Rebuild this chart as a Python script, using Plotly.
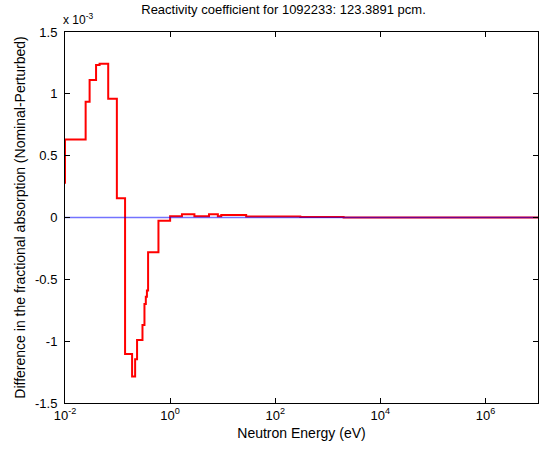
import plotly.graph_objects as go

# Step function: left bin edges (eV) and values (fractional absorption difference)
bin_edges = [0.005, 0.01, 0.0247, 0.0294, 0.039, 0.0455, 0.0664, 0.097, 0.139,
             0.189, 0.216, 0.235, 0.298, 0.325, 0.345, 0.362, 0.381, 0.6, 1.0,
             1.68, 2.9, 5.5, 8.1, 9.4, 28, 300, 2000, 1e7]
bin_values_e3 = [0.28, 0.63, 0.936, 1.112, 1.233, 1.244, 0.96, 0.156, -1.104,
                 -1.286, -1.146, -0.991, -0.87, -0.70, -0.64, -0.59, -0.281, -0.027, 0.01,
                 0.027, 0.01, 0.027, 0.01, 0.02, 0.008, 0.004, 0.0, 0.0]
bin_values = [v * 1e-3 for v in bin_values_e3]

zero_x = [0.01, 1e7]
zero_y = [0.0, 0.0]

ytick_vals = [-1.5e-3, -1e-3, -0.5e-3, 0, 0.5e-3, 1e-3, 1.5e-3]
ytick_text = ["-1.5", "-1", "-0.5", "0", "0.5", "1", "1.5"]
xtick_vals = [1e-2, 1e0, 1e2, 1e4, 1e6]
xtick_text = ["10<sup>-2</sup>", "10<sup>0</sup>", "10<sup>2</sup>", "10<sup>4</sup>", "10<sup>6</sup>"]

fig = go.Figure()
fig.add_trace(go.Scatter(x=bin_edges, y=bin_values, mode="lines",
                         line=dict(color="#ff0000", width=2, shape="hv"),
                         showlegend=False))
fig.add_trace(go.Scatter(x=zero_x, y=zero_y, mode="lines",
                         line=dict(color="rgba(0,0,255,0.55)", width=1.5),
                         showlegend=False))

font = dict(family="Liberation Sans, Arial, sans-serif", size=12, color="black")
fig.update_layout(
    width=540, height=453,
    margin=dict(l=65, r=2, t=32, b=50),
    paper_bgcolor="white", plot_bgcolor="white",
    font=font,
    title=dict(text="Reactivity coefficient for 1092233: 123.3891 pcm.",
               x=0.525, xanchor="center", y=0.99, yanchor="top",
               font=dict(size=13)),
    xaxis=dict(type="log", range=[-2, 7], tickvals=xtick_vals, ticktext=xtick_text,
               ticks="inside", ticklen=5, tickcolor="black", showgrid=False,
               zeroline=False, showline=True, linecolor="black", linewidth=1,
               mirror="ticks", tickfont=dict(size=13),
               title=dict(text="Neutron Energy (eV)", standoff=6)),
    yaxis=dict(range=[-1.5e-3, 1.5e-3], tickvals=ytick_vals, ticktext=ytick_text,
               ticks="inside", ticklen=5, tickcolor="black", showgrid=False,
               zeroline=False, showline=True, linecolor="black", linewidth=1,
               mirror="ticks", tickfont=dict(size=13), ticklabelstandoff=4,
               title=dict(text="Difference in the fractional absorption (Nominal-Perturbed)",
                          standoff=6)),
    annotations=[dict(text="x 10<sup>-3</sup>", xref="paper", yref="paper",
                      x=-0.008, y=1.0, xanchor="left", yanchor="bottom",
                      showarrow=False, font=dict(size=12), yshift=3)],
)

fig.write_html("out.html")
